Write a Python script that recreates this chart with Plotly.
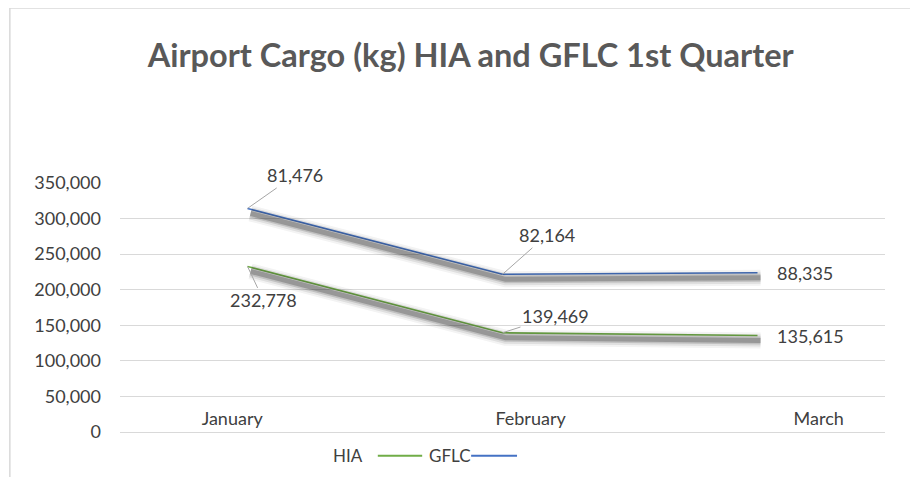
import plotly.graph_objects as go

months = ["January", "February", "March"]
hia = [232778, 139469, 135615]
gflc = [81476, 82164, 88335]

FONT = "Lato"
TXT = "#404040"
GRID = "#D9D9D9"
BLUE = "#4472C4"
GREEN = "#70AD47"

idx = list(range(len(months)))
stacked_top = [a + b for a, b in zip(hia, gflc)]

fig = go.Figure()

# soft drop shadow under both lines (same data on a slightly shifted overlay axis)
for w, a in [(16, 0.05), (12, 0.09), (8, 0.15), (5, 0.24)]:
    for name, vals in [("HIA", hia), ("GFLC", gflc)]:
        fig.add_trace(go.Scatter(
            x=idx, y=vals, mode="lines", stackgroup="shadow%d" % w, fill="none",
            line=dict(color="rgba(20,20,20,%s)" % a, width=w),
            xaxis="x2", yaxis="y2", showlegend=False, hoverinfo="skip"))

fig.add_trace(go.Scatter(x=idx, y=hia, name="HIA", mode="lines", stackgroup="main",
                         fill="none", line=dict(color=GREEN, width=1.6), showlegend=False))
fig.add_trace(go.Scatter(x=idx, y=gflc, name="GFLC", mode="lines", stackgroup="main",
                         fill="none", line=dict(color=BLUE, width=1.6), showlegend=False))

# data labels
lbl = dict(font=dict(family=FONT, size=18, color=TXT), arrowcolor="#A6A6A6",
           arrowwidth=1, arrowhead=0, standoff=0)
fig.add_annotation(x=idx[0], y=stacked_top[0], text=f"{gflc[0]:,}", ax=47, ay=-33, **lbl)
fig.add_annotation(x=idx[1], y=stacked_top[1], text=f"{gflc[1]:,}", ax=44, ay=-39, **lbl)
fig.add_annotation(x=idx[2], y=stacked_top[2], text=f"{gflc[2]:,}", showarrow=False,
                   xanchor="left", xshift=17, font=lbl["font"])
fig.add_annotation(x=idx[0], y=hia[0], text=f"{hia[0]:,}", ax=16, ay=34, **lbl)
fig.add_annotation(x=idx[1], y=hia[1], text=f"{hia[1]:,}", ax=53, ay=-17, **lbl)
fig.add_annotation(x=idx[2], y=hia[2], text=f"{hia[2]:,}", showarrow=False,
                   xanchor="left", xshift=17, font=lbl["font"])

# legend drawn as in the source: label, then line sample
leg_y = -0.095
for txt, lx in [("HIA", 0.298), ("GFLC", 0.431)]:
    fig.add_annotation(xref="paper", yref="paper", x=lx, y=leg_y, text=txt, showarrow=False,
                       xanchor="center", yanchor="middle",
                       font=dict(family=FONT, size=17, color=TXT))
fig.add_shape(type="line", xref="paper", yref="paper", x0=0.337, x1=0.395, y0=leg_y, y1=leg_y,
              line=dict(color=GREEN, width=2))
fig.add_shape(type="line", xref="paper", yref="paper", x0=0.459, x1=0.519, y0=leg_y, y1=leg_y,
              line=dict(color=BLUE, width=2))

# chart area border
fig.add_shape(type="rect", xref="paper", yref="paper", x0=-0.144, x1=1.035, y0=-0.3, y1=1.703,
              line=dict(color="#D9D9D9", width=1.5), layer="below")

fig.update_layout(
    width=918, height=477,
    margin=dict(l=112, r=41, t=175, b=53),
    paper_bgcolor="white", plot_bgcolor="white",
    title=dict(text="<b>Airport Cargo (kg) HIA and GFLC 1st Quarter</b>",
               x=0.504, xref="container", xanchor="center", y=0.901, yanchor="middle",
               font=dict(family=FONT, size=32.5, color="#595959")),
    xaxis=dict(range=[-0.5, 2.5], tickmode="array", tickvals=[-0.06, 1.11, 2.24], ticktext=months,
               ticks="", ticklabelstandoff=-30, showgrid=False, zeroline=False,
               showline=True, linecolor=GRID, linewidth=1.3,
               tickfont=dict(family=FONT, size=18, color=TXT)),
    yaxis=dict(range=[0, 350000], tickvals=[0, 50000, 100000, 150000, 200000, 250000, 300000, 350000],
               tickformat=",", gridcolor=GRID, gridwidth=1.3, zeroline=False, showline=False,
               ticklabelstandoff=18, tickfont=dict(family=FONT, size=18, color=TXT)),
    xaxis2=dict(overlaying="x", range=[-0.5 - 0.012, 2.5 - 0.012], visible=False),
    yaxis2=dict(overlaying="y", range=[7000, 357000], visible=False),
    showlegend=False,
)

fig.write_html("out.html")
